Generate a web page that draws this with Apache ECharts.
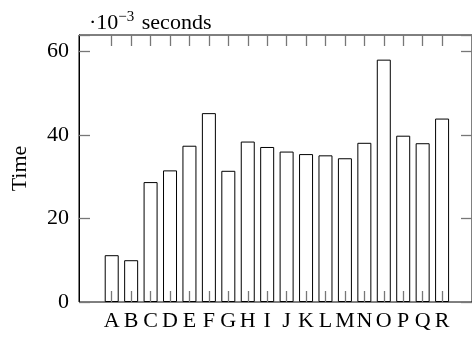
<!DOCTYPE html>
<html>
<head>
<meta charset="utf-8">
<script src="https://cdn.jsdelivr.net/npm/echarts@6/dist/echarts.min.js"></script>
<style>
html,body{margin:0;padding:0;background:#fff;}
#c{width:472px;height:337px;}
</style>
</head>
<body>
<div id="c"></div>
<script>
const categories = ['A','B','C','D','E','F','G','H','I','J','K','L','M','N','O','P','Q','R'];
const timeValues = [11.2, 10.0, 28.7, 31.5, 37.4, 45.2, 31.4, 38.4, 37.1, 36.0, 35.4, 35.1, 34.4, 38.1, 58.0, 39.8, 38.0, 43.9];
const yTicks = [0, 20, 40, 60];
const yMax = 63.9;

const FONT = '"Liberation Serif", "DejaVu Serif", serif';
const chart = echarts.init(document.getElementById('c'), null, {renderer: 'canvas'});
function ticks(extra) {
  return Object.assign({show: true, inside: true, length: 11, lineStyle: {color: '#777777', width: 1.3}}, extra || {});
}

chart.setOption({
  animation: false,
  backgroundColor: '#fff',
  title: {
    text: '{n|·10}{sup|−3}{n| seconds}',
    left: 84, top: 5,
    textStyle: {
      rich: {
        n: {fontFamily: FONT, fontSize: 22, fontWeight: 'normal', color: '#000'},
        sup: {fontFamily: FONT, fontSize: 15, fontWeight: 'normal', color: '#000', padding: [0, 2, 12, 0]}
      }
    }
  },
  grid: [
    {left: 79, right: -3, top: 35, bottom: 35, show: true, borderColor: '#000', borderWidth: 1, backgroundColor: 'transparent'},
    {left: 102, right: 20.2, top: 35, bottom: 35}
  ],
  xAxis: [
    {gridIndex: 0, type: 'value', min: 0, max: 1, show: false},
    {gridIndex: 1, type: 'category', data: categories, position: 'bottom', z: 10,
     axisLine: {show: false, onZero: false}, axisTick: ticks({alignWithLabel: true}),
     axisLabel: {fontFamily: FONT, fontSize: 22, color: '#000', margin: 8, interval: 0}},
    {gridIndex: 1, type: 'category', data: categories, position: 'top', z: 10,
     axisLine: {show: false, onZero: false}, axisTick: ticks({alignWithLabel: true}),
     axisLabel: {show: false}}
  ],
  yAxis: [
    {gridIndex: 0, type: 'value', min: 0, max: yMax, interval: 20, position: 'left', z: 10,
     axisLine: {show: true, onZero: false, lineStyle: {color: '#000'}}, axisTick: ticks(),
     splitLine: {show: false},
     axisLabel: {fontFamily: FONT, fontSize: 22, color: '#000', margin: 10,
       customValues: yTicks},
     name: 'Time', nameLocation: 'middle', nameGap: 48,
     nameTextStyle: {fontFamily: FONT, fontSize: 22, color: '#000'}},
    {gridIndex: 0, type: 'value', min: 0, max: yMax, interval: 20, position: 'right', z: 10,
     axisLine: {show: true, onZero: false, lineStyle: {color: '#000'}}, axisTick: ticks(),
     splitLine: {show: false}, axisLabel: {show: false}},
    {gridIndex: 1, type: 'value', min: 0, max: yMax, show: false}
  ],
  series: [{
    type: 'bar', xAxisIndex: 1, yAxisIndex: 2,
    data: timeValues, barWidth: 14,
    itemStyle: {color: '#fff', borderColor: '#000', borderWidth: 1}
  }]
});
</script>
</body>
</html>
